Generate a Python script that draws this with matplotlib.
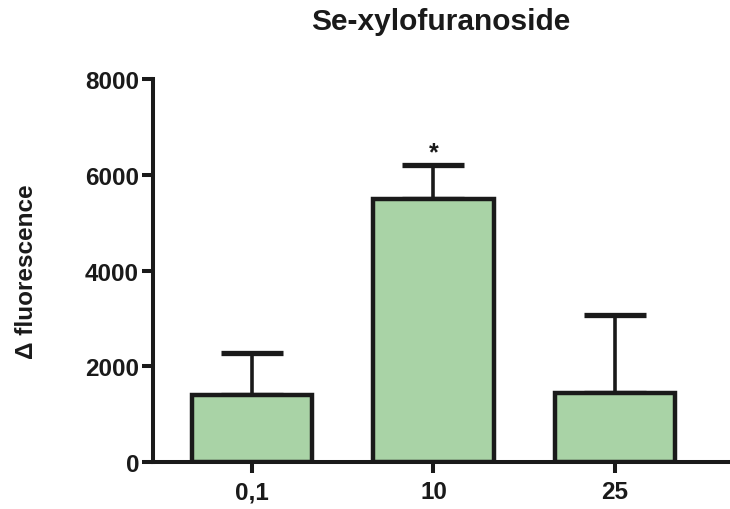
import matplotlib.pyplot as plt
import numpy as np

plt.rcParams['font.family'] = ['Liberation Sans', 'DejaVu Sans']
plt.rcParams['font.weight'] = 'bold'

categories = ['0,1', '10', '25']
means = [1400, 5500, 1450]
errors = [880, 700, 1620]
marks = ['', '*', '']

barColor = '#a9d3a6'
lineColor = '#1a1a1a'

fig = plt.figure(figsize=(7.3, 5.1), dpi=100)
ax = fig.add_axes([0.2096, 0.092, 0.787, 0.751])

x = np.arange(len(categories))
ax.bar(x, means, width=0.665, color=barColor, edgecolor=lineColor, linewidth=3.2, zorder=2)
ax.errorbar(x, means, yerr=[np.zeros(len(errors)), errors], fmt='none', ecolor=lineColor,
            elinewidth=2.6, capsize=22, capthick=3.8, zorder=1)

for i in range(len(categories)):
    if marks[i]:
        ax.text(x[i], means[i] + errors[i] + 20, marks[i], ha='center', va='bottom',
                fontsize=18, color=lineColor)

ax.set_ylim(0, 8000)
ax.set_xlim(-0.545, 2.62)
ax.set_yticks([0, 2000, 4000, 6000, 8000])
ax.set_xticks(x)
ax.set_xticklabels(categories)

for s in ['top', 'right']:
    ax.spines[s].set_visible(False)
for s in ['left', 'bottom']:
    ax.spines[s].set_linewidth(2.9)
    ax.spines[s].set_color(lineColor)

ax.tick_params(axis='both', width=2.9, length=8, color=lineColor, labelsize=17.5, labelcolor=lineColor)
ax.tick_params(axis='y', pad=2)
ax.tick_params(axis='x', pad=5)

ax.set_ylabel('Δ fluorescence', fontsize=17.5, fontweight='bold', color=lineColor, labelpad=34)
ax.set_title('Se-xylofuranoside', fontsize=21.5, fontweight='bold', color=lineColor, pad=36)

fig.savefig('out.png', dpi=100)
